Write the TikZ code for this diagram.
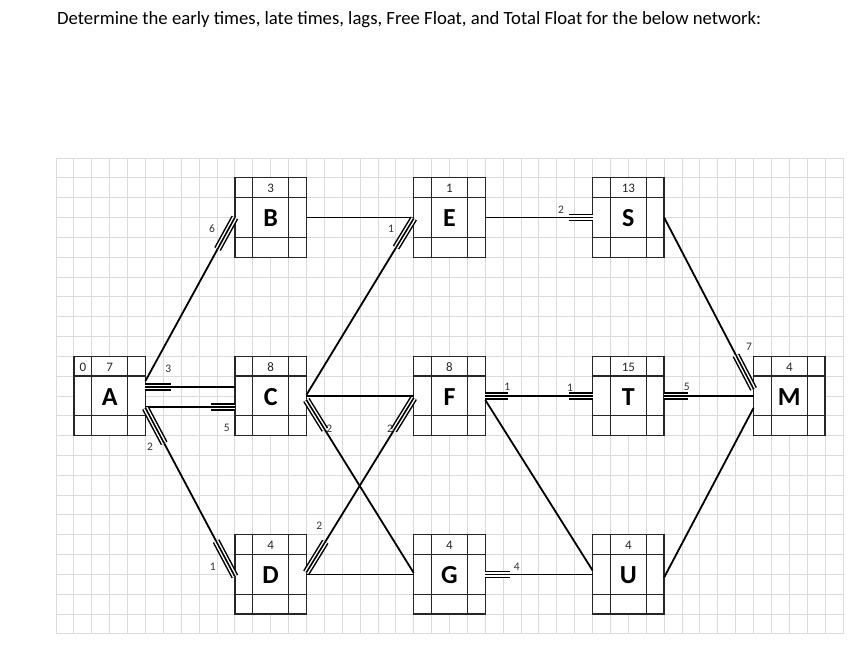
\documentclass[tikz,border=0pt]{standalone}
\usepackage{fontspec}
\setmainfont{Carlito}
\usetikzlibrary{calc}
\tikzset{
 gridl/.style={draw=black!14, line width=0.9pt},
 abox/.style={draw=black!85, line width=1.3pt, fill=white, minimum width=71.54pt, minimum height=79.32pt, inner sep=0pt, outer sep=0pt},
 boxline/.style={draw=black!85, line width=1.3pt},
 conn/.style={draw=black, line width=1.8pt},
 lagm/.style={draw=black, line width=7.5pt, postaction={draw=white, line width=4.5pt}, postaction={draw=black, line width=1.6pt}},
 numt/.style={font=\fontsize{13}{15}\selectfont, text=black!85, inner sep=0pt},
 lett/.style={font=\bfseries\fontsize{26}{28}\selectfont, inner sep=0pt},
 lagl/.style={font=\fontsize{11.5}{13}\selectfont, text=black!80, inner sep=0pt},
 titlet/.style={font=\fontsize{18.7}{22}\selectfont, inner sep=0pt, anchor=base west},
}
\newcommand\actbox[5]{%
 \node[abox, anchor=north west] (#1) at ({56+#2*17.886},{158+#3*19.83}) {};
 \draw[boxline] ([xshift=17.886pt]#1.north west) -- ([xshift=17.886pt]#1.south west);
 \draw[boxline] ([xshift=-17.886pt]#1.north east) -- ([xshift=-17.886pt]#1.south east);
 \draw[boxline] ([yshift=-19.83pt]#1.north west) -- ([yshift=-19.83pt]#1.north east);
 \draw[boxline] ([yshift=19.83pt]#1.south west) -- ([yshift=19.83pt]#1.south east);
 \node[numt] (#1num) at ([yshift=28.8pt]#1.center) {#4};
 \node[lett] (#1let) at ([yshift=-1pt]#1.center) {#5};
}
\newcommand\lagmk[3]{\draw[lagm] (#1) -- ($(#1)!#3!(#2)$);}
\begin{document}
\begin{tikzpicture}[x=1pt,y=-1pt]
\fill[white] (0,0) rectangle (854,661);
\useasboundingbox (0,0) rectangle (854,661);
\node[titlet] (title) at (57,25) {Determine the early times, late times, lags, Free Float, and Total Float for the below network:};
% grid
\foreach \i in {0,...,44} \draw[gridl] ({56+\i*17.886},158) -- ({56+\i*17.886},634);
\foreach \j in {0,...,24} \draw[gridl] (56,{158+\j*19.83}) -- (843,{158+\j*19.83});
% boxes
\actbox{A}{1}{10}{7}{A}
\node[numt] (Azero) at ([xshift=-26.83pt,yshift=28.8pt]A.center) {0};
\actbox{B}{10}{1}{3}{B}
\actbox{C}{10}{10}{8}{C}
\actbox{D}{10}{19}{4}{D}
\actbox{E}{20}{1}{1}{E}
\actbox{F}{20}{10}{8}{F}
\actbox{G}{20}{19}{4}{G}
\actbox{S}{30}{1}{13}{S}
\actbox{T}{30}{10}{15}{T}
\actbox{U}{30}{19}{4}{U}
\actbox{M}{39}{10}{4}{M}
% connectors
\draw[conn] ([yshift=15pt]A.east) coordinate (ab0) -- (B.west) coordinate (ab1);
\draw[conn] ([yshift=9pt]A.east) coordinate (ac0) -- ([yshift=9pt]C.west) coordinate (ac1);
\draw[conn] ([yshift=-11pt]A.east) coordinate (acl0) -- ([yshift=-11pt]C.west) coordinate (acl1);
\draw[conn] ([yshift=-12pt]A.east) coordinate (adx0) -- ([yshift=-2pt]D.west) coordinate (adx1);
\draw[conn] (B.east) -- (E.west);
\draw[conn] ([yshift=1pt]C.east) coordinate (ce0) -- ([yshift=-1pt]E.west) coordinate (ce1);
\draw[conn] (C.east) -- (F.west);
\draw[conn] ([yshift=-4pt]C.east) coordinate (cg0) -- ([yshift=1.5pt]G.west) coordinate (cg1);
\draw[conn] ([yshift=2pt]D.east) coordinate (df0) -- ([yshift=-2pt]F.west) coordinate (df1);
\draw[conn] (D.east) -- (G.west);
\draw[conn] (E.east) coordinate (es0) -- (S.west) coordinate (es1);
\draw[conn] (F.east) coordinate (ft0) -- (T.west) coordinate (ft1);
\draw[conn] ([yshift=-4pt]F.east) -- ([yshift=4pt]U.west);
\draw[conn] (G.east) coordinate (gu0) -- (U.west) coordinate (gu1);
\draw[conn] (S.east) coordinate (sm0) -- ([yshift=7pt]M.west) coordinate (sm1);
\draw[conn] (T.east) coordinate (tm0) -- (M.west) coordinate (tm1);
\draw[conn] ([yshift=-3pt]U.east) -- ([yshift=-12pt]M.west);
% lag marks
\lagmk{ab1}{ab0}{36pt}
\lagmk{ac0}{ac1}{26pt}
\lagmk{acl1}{acl0}{24pt}
\lagmk{adx0}{adx1}{40pt}
\lagmk{adx1}{adx0}{40pt}
\lagmk{ce1}{ce0}{34pt}
\lagmk{cg0}{cg1}{35pt}
\lagmk{df0}{df1}{36pt}
\lagmk{df1}{df0}{38pt}
\lagmk{es1}{es0}{24pt}
\lagmk{ft0}{ft1}{23pt}
\lagmk{ft1}{ft0}{24pt}
\lagmk{gu0}{gu1}{25pt}
\lagmk{sm1}{sm0}{38pt}
\lagmk{tm0}{tm1}{24pt}
% lag labels
\node[lagl] (l1) at (212,229) {6};
\node[lagl] (l2) at (168.3,369.3) {3};
\node[lagl] (l3) at (226.7,428.3) {5};
\node[lagl] (l4) at (150,447) {2};
\node[lagl] (l5) at (212.7,567) {1};
\node[lagl] (l6) at (391,229) {1};
\node[lagl] (l7) at (329.3,428.3) {2};
\node[lagl] (l8) at (390,428.3) {2};
\node[lagl] (l9) at (319.3,526) {2};
\node[lagl] (l10) at (561,210) {2};
\node[lagl] (l11) at (507.3,386.7) {1};
\node[lagl] (l12) at (570,388) {1};
\node[lagl] (l13) at (516.7,566.7) {4};
\node[lagl] (l14) at (749,347.3) {7};
\node[lagl] (l15) at (686.7,387.3) {5};
\end{tikzpicture}
\end{document}
